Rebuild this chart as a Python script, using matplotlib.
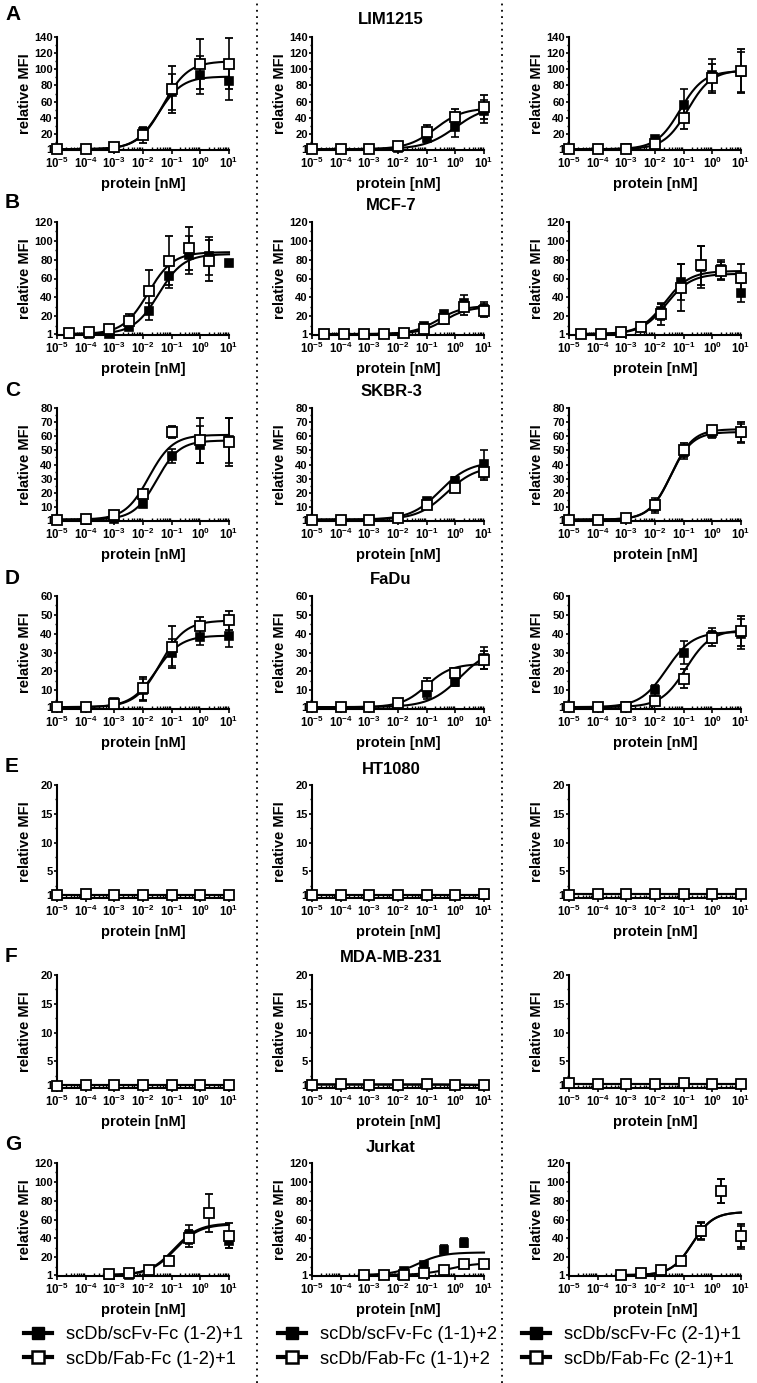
import numpy as np
import matplotlib
matplotlib.use("Agg")
import matplotlib.pyplot as plt
from matplotlib.lines import Line2D
from matplotlib.ticker import FixedLocator, NullFormatter

plt.rcParams['font.family'] = ['Liberation Sans', 'DejaVu Sans']
plt.rcParams['font.weight'] = 'bold'
plt.rcParams['mathtext.fontset'] = 'custom'
plt.rcParams['mathtext.rm'] = 'Liberation Sans:bold'
plt.rcParams['mathtext.bf'] = 'Liberation Sans:bold'
plt.rcParams['mathtext.it'] = 'Liberation Sans:bold'
plt.rcParams['mathtext.default'] = 'rm'

nan = np.nan

# ---------------- data ----------------
ROW_LETTERS = ['A', 'B', 'C', 'D', 'E', 'F', 'G']
CELL_LINES = ['LIM1215', 'MCF-7', 'SKBR-3', 'FaDu', 'HT1080', 'MDA-MB-231', 'Jurkat']
ROW_YMAX = [140, 120, 80, 60, 20, 20, 120]
ROW_YMIN = [0, 0, 0, 0, 0.4, 0.4, 0]
ROW_YTICKS = [
    [1, 20, 40, 60, 80, 100, 120, 140],
    [1, 20, 40, 60, 80, 100, 120],
    [1, 10, 20, 30, 40, 50, 60, 70, 80],
    [1, 10, 20, 30, 40, 50, 60],
    [1, 5, 10, 15, 20],
    [1, 5, 10, 15, 20],
    [1, 20, 40, 60, 80, 100, 120],
]
X_TICKS = [1e-5, 1e-4, 1e-3, 1e-2, 1e-1, 1e0, 1e1]
X_TICKLABELS = [r'$10^{-5}$', r'$10^{-4}$', r'$10^{-3}$', r'$10^{-2}$',
                r'$10^{-1}$', r'$10^{0}$', r'$10^{1}$']
LEGEND_SCFV = ['scDb/scFv-Fc (1-2)+1', 'scDb/scFv-Fc (1-1)+2', 'scDb/scFv-Fc (2-1)+1']
LEGEND_FAB = ['scDb/Fab-Fc (1-2)+1', 'scDb/Fab-Fc (1-1)+2', 'scDb/Fab-Fc (2-1)+1']

# concentrations (nM)
X_10FOLD = [1e-5, 1e-4, 1e-3, 1e-2, 1e-1, 1.0, 10.0]
X_5FOLD_B = [2.56e-5, 1.28e-4, 6.4e-4, 3.2e-3, 1.6e-2, 8e-2, 0.4, 2.0, 10.0]
X_5FOLD_G = [6.4e-4, 3.2e-3, 1.6e-2, 8e-2, 0.4, 2.0, 10.0]

# fit parameters: [bottom, top, EC50 (nM), hill]
# --- A: LIM1215
A1_scfv = [1.0, 1.2, 3.0, 22, 72, 93, 85]
A1_scfv_err = [0.3, 0.5, 1, 6, 22, 24, 23]
A1_fab = [1.0, 1.5, 3.5, 18, 75, 107, 107]
A1_fab_err = [0.3, 0.5, 1, 9, 29, 31, 32]
A1_scfv_fit = [1, 91, 0.035, 1.05]
A1_fab_fit = [1, 110, 0.05, 1.0]

A2_scfv = [1, 1, 1, 2, 15, 28, 48]
A2_scfv_err = [0.3, 0.3, 0.5, 1, 5, 12, 14]
A2_fab = [1, 1, 1.5, 5, 22, 41, 53]
A2_fab_err = [0.3, 0.3, 0.5, 1.5, 9, 10, 15]
A2_scfv_fit = [1, 55, 1.0, 0.8]
A2_fab_fit = [1, 52, 0.2, 0.9]

A3_scfv = [1, 1, 2, 14, 56, 93, 97]
A3_scfv_err = [0.3, 0.3, 0.5, 3, 19, 20, 25]
A3_fab = [1, 1, 1.5, 8, 40, 89, 98]
A3_fab_err = [0.3, 0.3, 0.5, 2, 14, 18, 27]
A3_scfv_fit = [1, 98, 0.075, 1.05]
A3_fab_fit = [1, 99, 0.14, 1.05]

# --- B: MCF-7
B1_scfv = [1, 1, 1.5, 9, 25, 63, 85, 84, 76]
B1_scfv_err = [0.3, 0.3, 0.5, 2, 9, 13, 20, 20, 0]
B1_fab = [2.5, 3.5, 6, 15, 47, 79, 92, 79, nan]
B1_fab_err = [0.5, 0.5, 1, 7, 22, 26, 23, 22, nan]
B1_scfv_fit = [1, 86, 0.035, 1.0]
B1_fab_fit = [1, 88, 0.015, 1.0]

B2_scfv = [1, 1, 1, 1, 2, 9.5, 22.5, 34, 28]
B2_scfv_err = [0.3, 0.3, 0.3, 0.3, 0.5, 1.5, 3, 8, 7]
B2_fab = [1, 1, 1, 1, 2, 6, 16.5, 29.5, 26]
B2_fab_err = [0.3, 0.3, 0.3, 0.3, 0.5, 1.5, 5, 8, 7]
B2_scfv_fit = [1, 31, 0.25, 1.0]
B2_fab_fit = [1, 30, 0.4, 1.0]

B3_scfv = [1, 1.2, 2.5, 10, 25, 56, 72, 70, 45]
B3_scfv_err = [0.3, 0.3, 0.5, 2, 9, 19, 22, 10, 10]
B3_fab = [1, 1.5, 3.5, 8, 22, 50, 74, 68, 61]
B3_fab_err = [0.3, 0.3, 0.5, 2, 11, 25, 21, 10, 14]
B3_scfv_fit = [1, 68, 0.022, 1.0]
B3_fab_fit = [1, 65, 0.025, 1.0]

# --- C: SKBR-3
C1_scfv = [1, 1, 1.5, 12, 46, 54, 57]
C1_scfv_err = [0.3, 0.3, 0.5, 1.5, 5, 13, 16]
C1_fab = [1, 1.5, 4.5, 19, 63, 57, 56]
C1_fab_err = [0.3, 0.3, 0.8, 2, 4, 16, 17]
C1_scfv_fit = [1, 57, 0.03, 1.1]
C1_fab_fit = [1, 61, 0.016, 1.05]

C2_scfv = [1, 1, 1, 2, 14.5, 28, 40.5]
C2_scfv_err = [0.3, 0.3, 0.3, 1, 2, 3, 10]
C2_fab = [1, 1, 1, 2, 11, 23.5, 35]
C2_fab_err = [0.3, 0.3, 0.3, 1, 1.5, 2.5, 6]
C2_scfv_fit = [1, 42, 0.3, 0.85]
C2_fab_fit = [1, 39, 0.5, 0.85]

C3_scfv = [1, 1, 2, 11, 49, 62, 62]
C3_scfv_err = [0.3, 0.3, 0.5, 5, 5, 3, 7]
C3_fab = [1, 1, 2, 11, 50, 64.5, 63]
C3_fab_err = [0.3, 0.3, 0.5, 4, 5, 3, 7]
C3_scfv_fit = [1, 63, 0.035, 1.15]
C3_fab_fit = [1, 65, 0.037, 1.15]

# --- D: FaDu
D1_scfv = [1, 1, 3.5, 10, 30, 38, 39]
D1_scfv_err = [0.3, 0.3, 1, 6, 7, 4, 6]
D1_fab = [1, 1.2, 2.7, 11, 33, 44, 47]
D1_fab_err = [0.3, 0.3, 1, 6, 11, 5, 5]
D1_scfv_fit = [1, 39, 0.028, 1.0]
D1_fab_fit = [1, 47, 0.04, 1.0]

D2_scfv = [1, 1, 1, 2, 8.5, 14.5, 27]
D2_scfv_err = [0.3, 0.3, 0.3, 0.8, 3, 2.5, 6]
D2_fab = [1, 1, 1, 3, 12, 19, 26]
D2_fab_err = [0.3, 0.3, 0.3, 0.8, 4.5, 3, 5]
D2_scfv_fit = [1, 33, 1.5, 0.8]
D2_fab_fit = [1, 24, 0.1, 1.0]

D3_scfv = [1, 1, 1.5, 10, 30, 39, 40]
D3_scfv_err = [0.3, 0.3, 0.5, 3, 6, 4, 8]
D3_fab = [1, 1, 1, 4, 16, 37.5, 41.5]
D3_fab_err = [0.3, 0.3, 0.3, 1, 5, 4, 8]
D3_scfv_fit = [1, 41, 0.025, 0.95]
D3_fab_fit = [1, 42, 0.12, 1.0]

# --- E: HT1080
E1_scfv = [1.0, 1.0, 1.0, 1.0, 0.95, 0.95, 0.95]
E1_scfv_err = [0.05] * 7
E1_fab = [1.0, 1.02, 1.0, 1.0, 0.98, 0.95, 0.95]
E1_fab_err = [0.05] * 7
E1_scfv_fit = [0.97, 0.97, 1.0, 1.0]
E1_fab_fit = [0.98, 0.98, 1.0, 1.0]

E2_scfv = [1.0, 1.0, 1.0, 1.0, 1.0, 0.95, 1.0]
E2_scfv_err = [0.05] * 7
E2_fab = [1.0, 1.0, 1.0, 1.0, 1.0, 0.95, 1.05]
E2_fab_err = [0.05] * 7
E2_scfv_fit = [0.99, 0.99, 1.0, 1.0]
E2_fab_fit = [1.0, 1.0, 1.0, 1.0]

E3_scfv = [1.0, 1.05, 1.05, 1.05, 1.05, 1.05, 1.05]
E3_scfv_err = [0.05] * 7
E3_fab = [1.0, 1.05, 1.05, 1.05, 1.05, 1.05, 1.1]
E3_fab_err = [0.05] * 7
E3_scfv_fit = [1.04, 1.04, 1.0, 1.0]
E3_fab_fit = [1.05, 1.05, 1.0, 1.0]

# --- F: MDA-MB-231
F1_scfv = [0.8, 0.9, 0.95, 0.95, 0.95, 0.85, 0.8]
F1_scfv_err = [0.08] * 7
F1_fab = [0.8, 0.9, 0.95, 0.95, 0.95, 0.85, 0.85]
F1_fab_err = [0.08] * 7
F1_scfv_fit = [0.88, 0.88, 1.0, 1.0]
F1_fab_fit = [0.9, 0.9, 1.0, 1.0]

F2_scfv = [1.0, 1.05, 0.95, 1.0, 1.05, 0.95, 0.85]
F2_scfv_err = [0.08] * 7
F2_fab = [1.0, 1.1, 1.0, 1.0, 1.1, 1.0, 0.95]
F2_fab_err = [0.08] * 7
F2_scfv_fit = [1.0, 0.9, 1.0, 1.0]
F2_fab_fit = [1.03, 0.95, 1.0, 1.0]

F3_scfv = [1.15, 1.1, 1.1, 1.1, 1.15, 1.1, 1.05]
F3_scfv_err = [0.08] * 7
F3_fab = [1.2, 1.1, 1.1, 1.1, 1.2, 1.1, 1.1]
F3_fab_err = [0.08] * 7
F3_scfv_fit = [1.1, 1.1, 1.0, 1.0]
F3_fab_fit = [1.13, 1.13, 1.0, 1.0]

# --- G: Jurkat
G1_scfv = [1, 1.5, 5, 17, 44, nan, 37.5]
G1_scfv_err = [0.3, 0.5, 1, 3, 10, nan, 8]
G1_fab = [1.7, 3, 6, 16, 40, 67, 43]
G1_fab_err = [0.5, 0.5, 1, 3, 9, 20, 13]
G1_scfv_fit = [1, 56, 0.12, 1.0]
G1_fab_fit = [1, 55, 0.13, 1.0]

G2_scfv = [1, 1, 5, 11.5, 28, 35.5, nan]
G2_scfv_err = [0.3, 0.3, 1, 2, 5, 5, nan]
G2_fab = [1, 1.5, 1.5, 2.7, 6, 13, 12.5]
G2_fab_err = [0.3, 0.3, 0.3, 0.5, 1, 3, 3]
G2_scfv_fit = [1, 25, 0.05, 1.0]
G2_fab_fit = [1, 14, 0.6, 0.9]

G3_scfv = [1, 3, 6, 16, 47, 90, 41]
G3_scfv_err = [0.3, 0.5, 1, 3, 9, 13, 12]
G3_fab = [1, 3.4, 6.2, 16, 48, 90, 43]
G3_fab_err = [0.3, 0.5, 1, 3, 9, 13, 12]
G3_scfv_fit = [1, 68, 0.2, 1.2]
G3_fab_fit = [1, 68, 0.2, 1.2]

ROW_X = [X_10FOLD, X_5FOLD_B, X_10FOLD, X_10FOLD, X_10FOLD, X_10FOLD, X_5FOLD_G]
PANEL_DATA = [
    [(A1_scfv, A1_scfv_err, A1_fab, A1_fab_err, A1_scfv_fit, A1_fab_fit),
     (A2_scfv, A2_scfv_err, A2_fab, A2_fab_err, A2_scfv_fit, A2_fab_fit),
     (A3_scfv, A3_scfv_err, A3_fab, A3_fab_err, A3_scfv_fit, A3_fab_fit)],
    [(B1_scfv, B1_scfv_err, B1_fab, B1_fab_err, B1_scfv_fit, B1_fab_fit),
     (B2_scfv, B2_scfv_err, B2_fab, B2_fab_err, B2_scfv_fit, B2_fab_fit),
     (B3_scfv, B3_scfv_err, B3_fab, B3_fab_err, B3_scfv_fit, B3_fab_fit)],
    [(C1_scfv, C1_scfv_err, C1_fab, C1_fab_err, C1_scfv_fit, C1_fab_fit),
     (C2_scfv, C2_scfv_err, C2_fab, C2_fab_err, C2_scfv_fit, C2_fab_fit),
     (C3_scfv, C3_scfv_err, C3_fab, C3_fab_err, C3_scfv_fit, C3_fab_fit)],
    [(D1_scfv, D1_scfv_err, D1_fab, D1_fab_err, D1_scfv_fit, D1_fab_fit),
     (D2_scfv, D2_scfv_err, D2_fab, D2_fab_err, D2_scfv_fit, D2_fab_fit),
     (D3_scfv, D3_scfv_err, D3_fab, D3_fab_err, D3_scfv_fit, D3_fab_fit)],
    [(E1_scfv, E1_scfv_err, E1_fab, E1_fab_err, E1_scfv_fit, E1_fab_fit),
     (E2_scfv, E2_scfv_err, E2_fab, E2_fab_err, E2_scfv_fit, E2_fab_fit),
     (E3_scfv, E3_scfv_err, E3_fab, E3_fab_err, E3_scfv_fit, E3_fab_fit)],
    [(F1_scfv, F1_scfv_err, F1_fab, F1_fab_err, F1_scfv_fit, F1_fab_fit),
     (F2_scfv, F2_scfv_err, F2_fab, F2_fab_err, F2_scfv_fit, F2_fab_fit),
     (F3_scfv, F3_scfv_err, F3_fab, F3_fab_err, F3_scfv_fit, F3_fab_fit)],
    [(G1_scfv, G1_scfv_err, G1_fab, G1_fab_err, G1_scfv_fit, G1_fab_fit),
     (G2_scfv, G2_scfv_err, G2_fab, G2_fab_err, G2_scfv_fit, G2_fab_fit),
     (G3_scfv, G3_scfv_err, G3_fab, G3_fab_err, G3_scfv_fit, G3_fab_fit)],
]


def four_pl(x, bottom, top, ec50, hill):
    return bottom + (top - bottom) / (1.0 + (ec50 / x) ** hill)


# ---------------- layout ----------------
W, H = 757, 1383
fig = plt.figure(figsize=(W / 100, H / 100), dpi=100)

COL_LEFT_PX = [57, 312, 569]
COL_WIDTH_PX = 172
ROW_TOP_PX = [37, 222, 408, 596, 785, 975, 1163]
AX_HEIGHT_PX = 113
LETTER_Y_PX = [15, 202, 390, 578, 767, 956, 1145]
TITLE_X_PX = 391
TITLE_Y_PX = [19, 205, 392, 580, 769, 958, 1147]

for r in range(7):
    xr = np.array(ROW_X[r], dtype=float)
    for c in range(3):
        scfv, scfv_err, fab, fab_err, fit_s, fit_f = PANEL_DATA[r][c]
        ax = fig.add_axes([COL_LEFT_PX[c] / W,
                           1 - (ROW_TOP_PX[r] + AX_HEIGHT_PX) / H,
                           COL_WIDTH_PX / W, AX_HEIGHT_PX / H])
        ax.set_xscale('log')
        xs = np.logspace(np.log10(xr.min()), np.log10(xr.max()), 300)
        ax.plot(xs, four_pl(xs, *fit_s), color='black', lw=1.5, zorder=2, clip_on=False)
        ax.plot(xs, four_pl(xs, *fit_f), color='black', lw=1.5, zorder=2, clip_on=False)
        ax.errorbar(xr, scfv, yerr=scfv_err, fmt='s', ms=6, mfc='black', mec='black',
                    mew=1.2, ecolor='black', elinewidth=1.2, capsize=3, capthick=1.2,
                    zorder=3, clip_on=False)
        ax.errorbar(xr, fab, yerr=fab_err, fmt='s', ms=6.5, mfc='white', mec='black',
                    mew=1.3, ecolor='black', elinewidth=1.2, capsize=3, capthick=1.2,
                    zorder=4, clip_on=False)
        ax.set_xlim(1e-5, 10)
        ax.set_ylim(ROW_YMIN[r], ROW_YMAX[r])
        ax.set_xticks(X_TICKS)
        ax.set_xticklabels(X_TICKLABELS)
        minor_x = [m * 10.0 ** e for e in range(-5, 1) for m in range(2, 10)]
        ax.xaxis.set_minor_locator(FixedLocator(minor_x))
        ax.xaxis.set_minor_formatter(NullFormatter())
        yt = ROW_YTICKS[r]
        ax.set_yticks(yt)
        ax.set_yticklabels([str(v) for v in yt])
        step = yt[2] - yt[1]
        ax.yaxis.set_minor_locator(FixedLocator([v + step / 2 for v in yt[1:-1]] + [step / 2]))
        for s in ['top', 'right']:
            ax.spines[s].set_visible(False)
        for s in ['left', 'bottom']:
            ax.spines[s].set_linewidth(1.5)
        ax.tick_params(axis='x', which='major', direction='out', length=3, width=1.2,
                       labelsize=8.3, pad=1.5)
        ax.tick_params(axis='y', which='major', direction='out', length=2.5, width=1.2,
                       labelsize=8, pad=0.6)
        ax.tick_params(axis='x', which='minor', direction='in', length=2.5, width=1.0)
        ax.tick_params(axis='y', which='minor', direction='out', length=1.8, width=1.0)
        for lab in ax.get_xticklabels() + ax.get_yticklabels():
            lab.set_fontweight('bold')
        ax.set_xlabel('protein [nM]', fontsize=10.5, fontweight='bold', labelpad=4)
        ax.set_ylabel('relative MFI', fontsize=10.5, fontweight='bold')
        ax.yaxis.set_label_coords(-0.145, 0.5)

    fig.text(5 / W, 1 - LETTER_Y_PX[r] / H, ROW_LETTERS[r], fontsize=15,
             fontweight='bold', ha='left', va='center')
    fig.text(TITLE_X_PX / W, 1 - TITLE_Y_PX[r] / H, CELL_LINES[r], fontsize=12,
             fontweight='bold', ha='center', va='center')

# separators
for xpx in [257, 502]:
    fig.add_artist(Line2D([xpx / W, xpx / W], [0, 1], transform=fig.transFigure,
                          color='black', lw=1.3, linestyle=(0, (1, 2.5))))

# legends
LEG_X_PX = [24, 278, 522]
for c in range(3):
    h_s = Line2D([], [], color='black', lw=3, marker='s', ms=9, mfc='black', mec='black')
    h_f = Line2D([], [], color='black', lw=3, marker='s', ms=9, mfc='white', mec='black', mew=1.8)
    fig.legend([h_s, h_f], [LEGEND_SCFV[c], LEGEND_FAB[c]], loc='upper left',
               bbox_to_anchor=(LEG_X_PX[c] / W, 1 - 1326 / H), frameon=False,
               prop={'family': ['Liberation Sans', 'DejaVu Sans'], 'size': 13.2, 'weight': 'normal'},
               handlelength=1.5, handletextpad=0.8, labelspacing=0.42,
               borderaxespad=0, borderpad=0)

fig.savefig('out.png', dpi=100)
